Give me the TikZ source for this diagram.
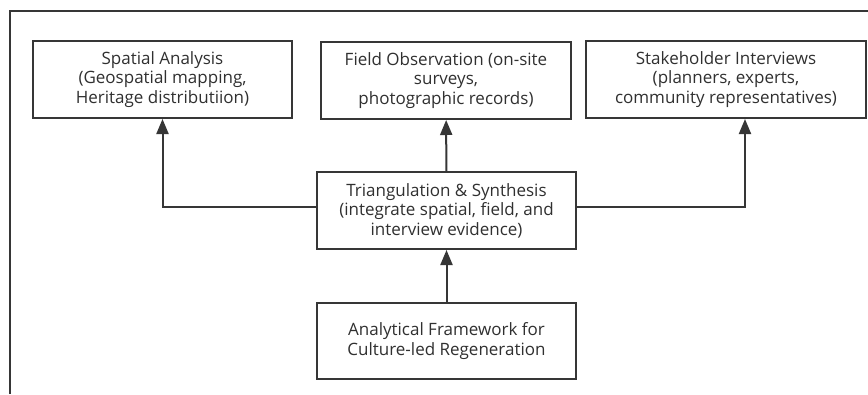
\documentclass[tikz,border=0pt]{standalone}
\usepackage{fontspec}
\setmainfont{Open Sans}
\usetikzlibrary{arrows.meta,positioning}
\definecolor{inkgray}{HTML}{363636}
\definecolor{txtgray}{HTML}{303030}

\begin{document}
\begin{tikzpicture}
[x=1pt,y=-1pt,>={Triangle[width=12pt,length=15pt]},
box/.style = {draw=inkgray, line width=2pt, minimum width=259pt, minimum height=77pt,
  align=center, text=txtgray, font=\fontsize{17}{19.5}\selectfont, inner sep=1pt,
  execute at begin node={\rule{0pt}{21pt}}},
link/.style = {draw=inkgray, line width=2pt, ->},]

\useasboundingbox (0,0) rectangle (868,394);
\fill[white] (0,0) rectangle (868,394);
% outer frame, only top and left sides
\draw[inkgray, line width=2pt] (10,394) -- (10,11) -- (868,11);

\node (spatial) at (162.5,79.5)[box] {Spatial Analysis\\(Geospatial mapping,\\Heritage distributiion)};
\node (field) at (446,80.5)[box, minimum width=250pt] {Field Observation (on-site\\surveys,\\photographic records)};
\node (stake) at (726,79.5)[box, minimum width=280pt] {Stakeholder Interviews\\(planners, experts,\\community representatives)};
\node (tri) at (446.5,210.5)[box] {Triangulation \& Synthesis\\(integrate spatial, field, and\\interview evidence)};
\node (frame) at (446.5,341)[box, minimum height=76pt] {Analytical Framework for\\Culture-led Regeneration};

\coordinate (sk) at ([xshift=19pt]stake.south);
\draw [link] (frame) -- (tri);
\draw [link] (tri) -- (field);
\draw [link] ([yshift=3.5pt]tri.west) -| (spatial.south);
\draw [link] ([yshift=3.5pt]tri.east) -| (sk);

\end{tikzpicture}
\end{document}
